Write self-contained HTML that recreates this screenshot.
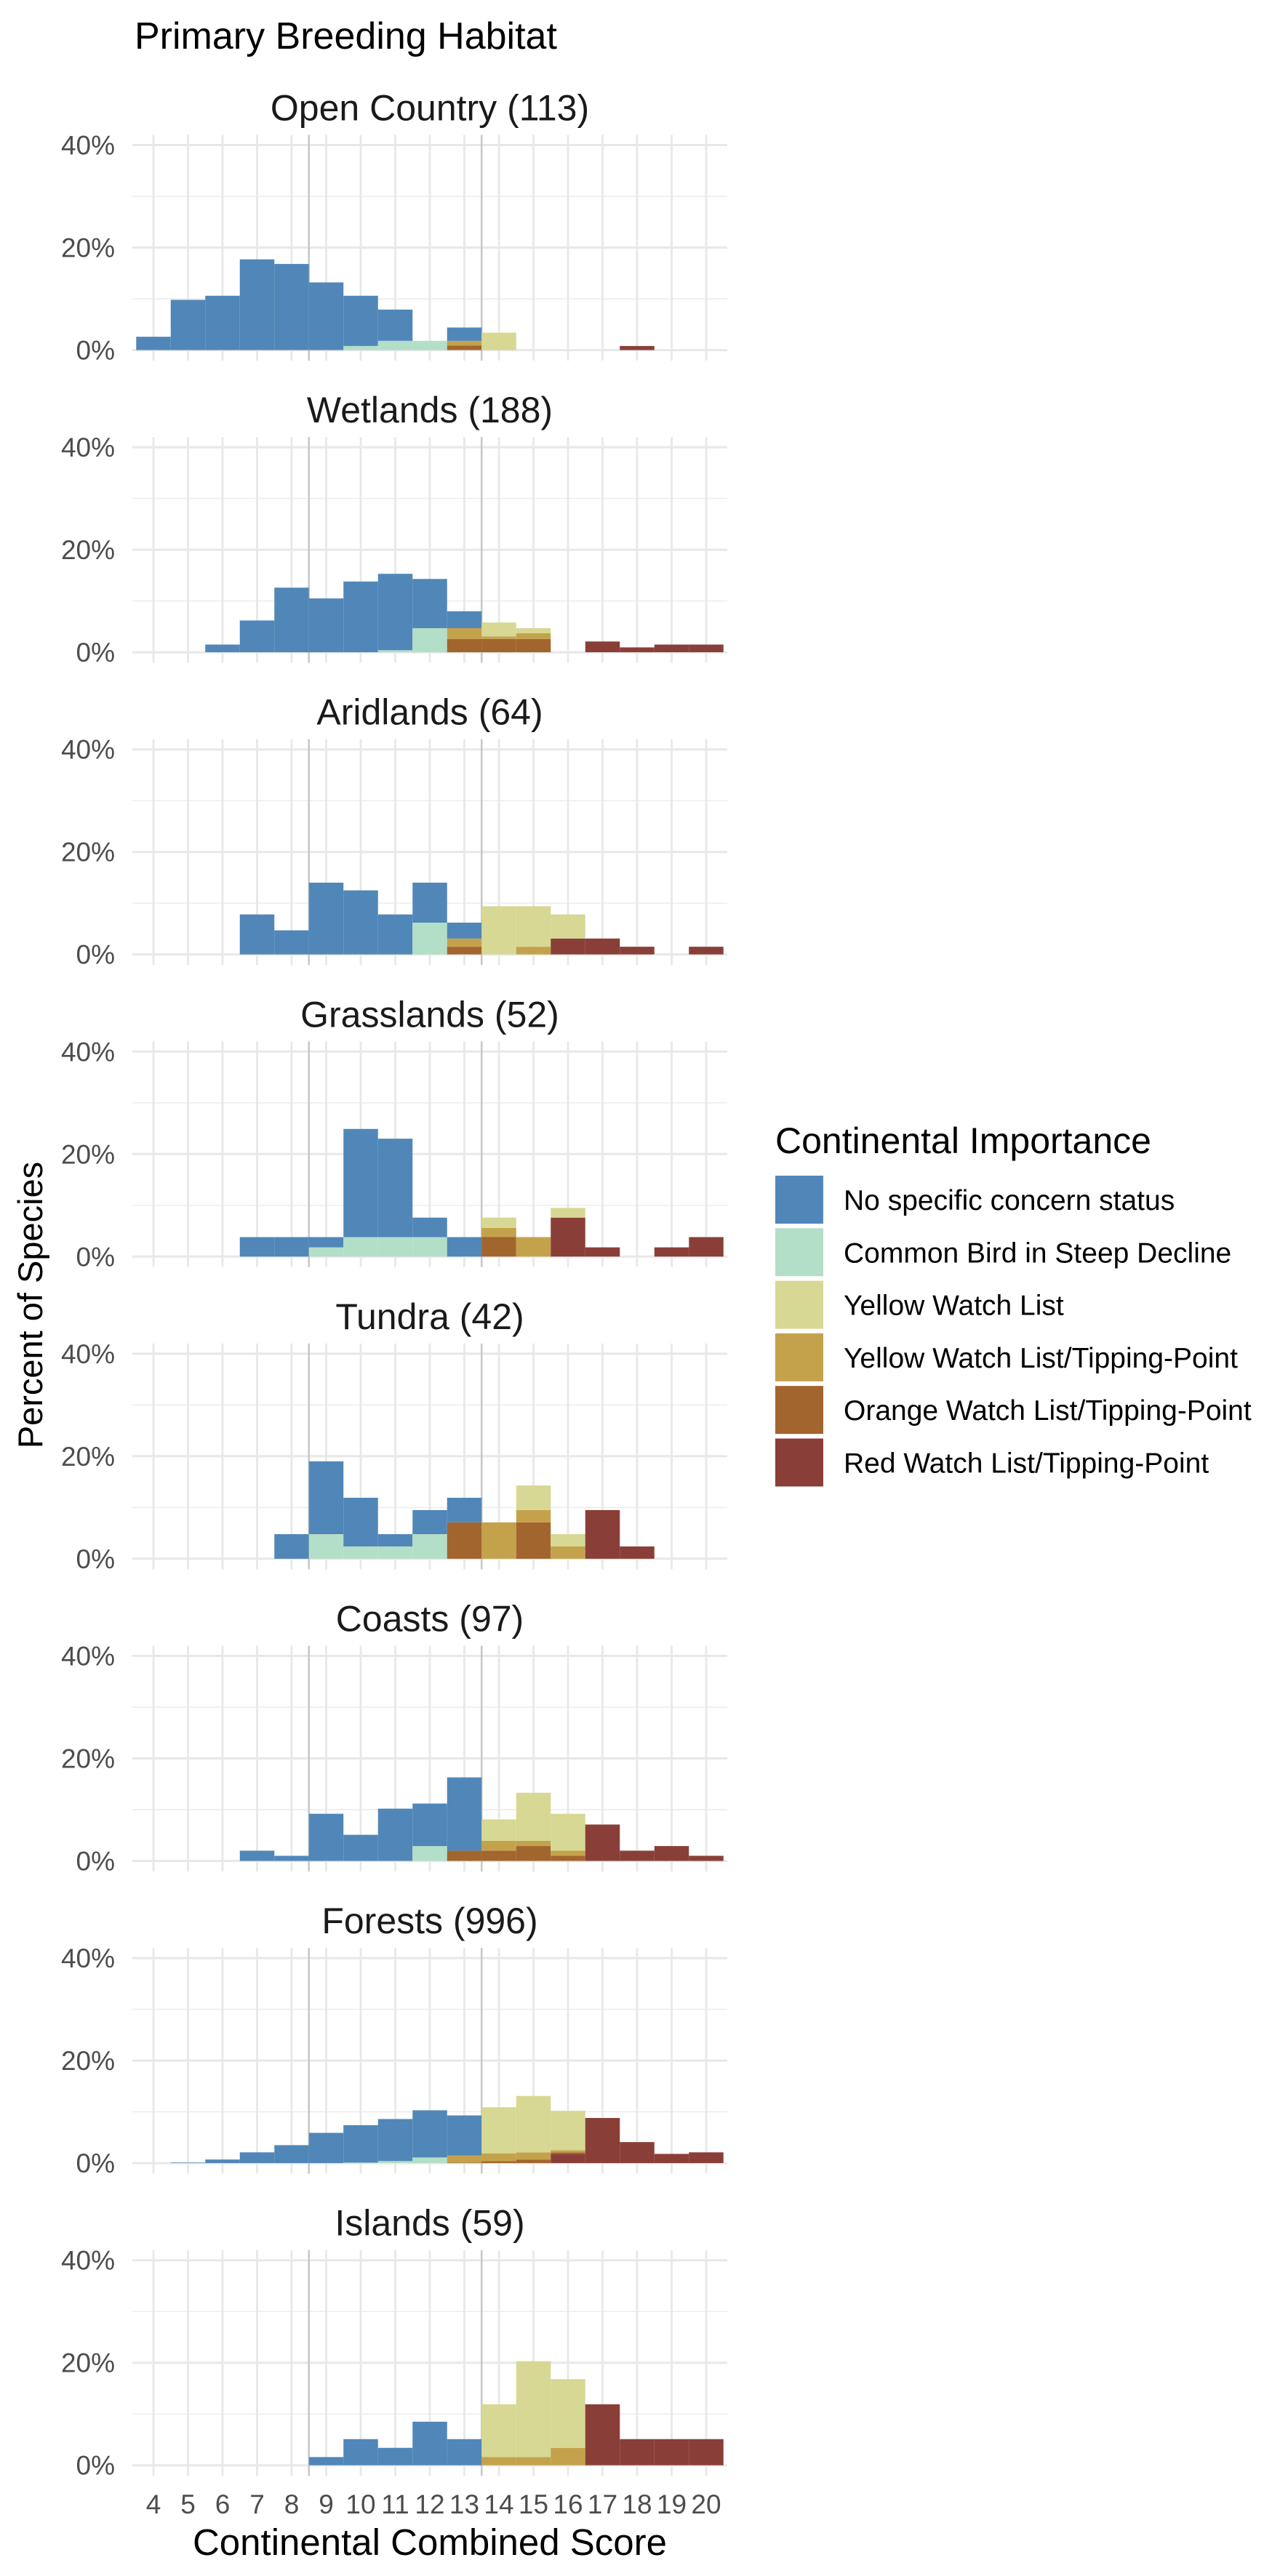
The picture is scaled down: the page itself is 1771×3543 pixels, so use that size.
<!DOCTYPE html>
<html><head><meta charset="utf-8">
<style>
html,body{margin:0;padding:0;background:#fff;}
svg{display:block;font-family:"Liberation Sans",Arial,sans-serif;}
</style></head>
<body>
<svg id="chart" width="1771" height="3543" viewBox="0 0 1771 3543" xmlns="http://www.w3.org/2000/svg">
<rect x="0" y="0" width="1771" height="3543" fill="#ffffff"/>
<text x="185" y="67" font-size="52" fill="#000">Primary Breeding Habitat</text>
<text transform="translate(58,1795) rotate(-90)" text-anchor="middle" font-size="47" fill="#000">Percent of Species</text>
<text x="591" y="3514" text-anchor="middle" font-size="51" fill="#000">Continental Combined Score</text>
<g id="panels"></g>
<g id="legend"></g>
</svg>
<script>
// Data: scores 4..20; each array row = one panel, values = % of species in that segment
const scores = [4,5,6,7,8,9,10,11,12,13,14,15,16,17,18,19,20];
const panelTitles = ["Open Country (113)","Wetlands (188)","Aridlands (64)","Grasslands (52)","Tundra (42)","Coasts (97)","Forests (996)","Islands (59)"];
const yTicks = [0,20,40];
const yTickLabels = ["0%","20%","40%"];
const yMinor = [10,30];
const thresholds = [8.5,13.5];
const categories = ["No specific concern status","Common Bird in Steep Decline","Yellow Watch List","Yellow Watch List/Tipping-Point","Orange Watch List/Tipping-Point","Red Watch List/Tipping-Point"];
const catColors = ["#5087b8","#b3dec8","#d6d893","#c4a24c","#a2652d","#893f37"];
// stacking order bottom -> top: red, orange, gold, yellow, green, blue
const red = [
 [0,0,0,0,0,0,0,0,0,0,0,0,0,0,0.8,0,0],
 [0,0,0,0,0,0,0,0,0,0,0,0,0,2.1,0.95,1.5,1.5],
 [0,0,0,0,0,0,0,0,0,0,0,0,3.1,3.1,1.5,0,1.5],
 [0,0,0,0,0,0,0,0,0,0,0,0,7.6,1.8,0,1.8,3.8],
 [0,0,0,0,0,0,0,0,0,0,0,0,0,9.5,2.4,0,0],
 [0,0,0,0,0,0,0,0,0,0,0,0,0,7.1,2.0,2.9,1.0],
 [0,0,0,0,0,0,0,0,0,0,0,0,1.8,8.8,4.1,1.8,2.1],
 [0,0,0,0,0,0,0,0,0,0,0,0,0,11.9,5.1,5.1,5.1]
];
const orange = [
 [0,0,0,0,0,0,0,0,0,0.9,0,0,0,0,0,0,0],
 [0,0,0,0,0,0,0,0,0,2.6,2.6,2.6,0,0,0,0,0],
 [0,0,0,0,0,0,0,0,0,1.5,0,0,0,0,0,0,0],
 [0,0,0,0,0,0,0,0,0,0,3.8,0,0,0,0,0,0],
 [0,0,0,0,0,0,0,0,0,7.1,0,7.1,0,0,0,0,0],
 [0,0,0,0,0,0,0,0,0,2.0,2.0,2.9,1.0,0,0,0,0],
 [0,0,0,0,0,0,0,0,0,0.1,0.4,0.7,0.3,0,0,0,0],
 [0,0,0,0,0,0,0,0,0,0,0,0,0,0,0,0,0]
];
const gold = [
 [0,0,0,0,0,0,0,0,0,0.9,0,0,0,0,0,0,0],
 [0,0,0,0,0,0,0,0,0,2.1,0.5,1.1,0,0,0,0,0],
 [0,0,0,0,0,0,0,0,0,1.6,0,1.5,0,0,0,0,0],
 [0,0,0,0,0,0,0,0,0,0,1.8,3.8,0,0,0,0,0],
 [0,0,0,0,0,0,0,0,0,0,7.1,2.4,2.4,0,0,0,0],
 [0,0,0,0,0,0,0,0,0,0,1.9,1.0,1.0,0,0,0,0],
 [0,0,0,0,0,0,0,0,0,1.4,1.5,1.4,0.4,0,0,0,0],
 [0,0,0,0,0,0,0,0,0,0,1.6,1.6,3.4,0,0,0,0]
];
const yellow = [
 [0,0,0,0,0,0,0,0,0,0,3.4,0,0,0,0,0,0],
 [0,0,0,0,0,0,0,0,0,0,2.7,1.0,0,0,0,0,0],
 [0,0,0,0,0,0,0,0,0,0,9.4,7.9,4.7,0,0,0,0],
 [0,0,0,0,0,0,0,0,0,0,2.0,0,1.9,0,0,0,0],
 [0,0,0,0,0,0,0,0,0,0,0,4.8,2.4,0,0,0,0],
 [0,0,0,0,0,0,0,0,0,0,4.2,9.4,7.2,0,0,0,0],
 [0,0,0,0,0,0,0,0,0,0,9.0,11.0,7.7,0,0,0,0],
 [0,0,0,0,0,0,0,0,0,0,10.3,18.7,13.4,0,0,0,0]
];
const green = [
 [0,0,0,0,0,0,0.8,1.8,1.8,0,0,0,0,0,0,0,0],
 [0,0,0,0,0,0,0,0.4,4.7,0,0,0,0,0,0,0,0],
 [0,0,0,0,0,0,0,0,6.2,0,0,0,0,0,0,0,0],
 [0,0,0,0,0,1.8,3.8,3.8,3.8,0,0,0,0,0,0,0,0],
 [0,0,0,0,0,4.8,2.4,2.4,4.8,0,0,0,0,0,0,0,0],
 [0,0,0,0,0,0,0,0,2.9,0,0,0,0,0,0,0,0],
 [0,0,0,0,0,0,0.1,0.4,1.1,0,0,0,0,0,0,0,0],
 [0,0,0,0,0,0,0,0,0,0,0,0,0,0,0,0,0]
];
const blue = [
 [2.6,9.8,10.6,17.7,16.8,13.2,9.8,6.1,0,2.6,0,0,0,0,0,0,0],
 [0,0,1.5,6.2,12.6,10.5,13.8,14.9,9.6,3.3,0,0,0,0,0,0,0],
 [0,0,0,7.8,4.7,14.0,12.5,7.8,7.8,3.1,0,0,0,0,0,0,0],
 [0,0,0,3.8,3.8,2.0,21.1,19.2,3.8,3.8,0,0,0,0,0,0,0],
 [0,0,0,0,4.8,14.2,9.5,2.4,4.7,4.8,0,0,0,0,0,0,0],
 [0,0,0,2.0,1.0,9.2,5.1,10.2,8.3,14.3,0,0,0,0,0,0,0],
 [0,0.1,0.7,2.1,3.5,5.9,7.3,8.2,9.2,7.8,0,0,0,0,0,0,0],
 [0,0,0,0,0,1.6,5.1,3.4,8.5,5.1,0,0,0,0,0,0,0]
];

const NS = "http://www.w3.org/2000/svg";
const stackOrder = [red, orange, gold, yellow, green, blue];
const stackColor = [catColors[5],catColors[4],catColors[3],catColors[2],catColors[1],catColors[0]];
const stackNames = ["red-watch","orange-watch","yellow-tipping","yellow-watch","common-decline","no-concern"];
const X0 = 211, XU = 47.5, PX1 = 182, PX2 = 1000;
const Y0 = 481.5, PSTEP = 415.6, YU = 7.05;
function xs(s){ return X0 + (s-4)*XU; }
function zeroY(k){ return Y0 + k*PSTEP; }
function ys(k,p){ return zeroY(k) - p*YU; }
function mk(tag, attrs, parent){ const e=document.createElementNS(NS,tag); for(const a in attrs) e.setAttribute(a,attrs[a]); parent.appendChild(e); return e; }

const panels = document.getElementById("panels");
panelTitles.forEach((title,k)=>{
  const g = mk("g",{},panels);
  
  
  const top = ys(k,40)-14, bot = zeroY(k)+14.5;
  yMinor.forEach(v=>{ const l=mk("line",{x1:PX1,x2:PX2,y1:ys(k,v),y2:ys(k,v),stroke:"#ebebeb","stroke-width":1.4},g);
      });
  yTicks.forEach(v=>{ const l=mk("line",{x1:PX1,x2:PX2,y1:ys(k,v),y2:ys(k,v),stroke:"#e8e8e8","stroke-width":3},g);
      });
  scores.forEach(s=>{ const l=mk("line",{x1:xs(s),x2:xs(s),y1:top,y2:bot,stroke:"#e8e8e8","stroke-width":2.8},g);
      });
  thresholds.forEach(t=>{ const l=mk("line",{x1:xs(t),x2:xs(t),y1:top,y2:bot,stroke:"#c8c8c8","stroke-width":2.6},g);
      });
  scores.forEach((s,i)=>{
    let cum = 0;
    stackOrder.forEach((arr,c)=>{
      const v = arr[k][i];
      if(v>0){
        const r = mk("rect",{x:xs(s)-XU/2,width:XU,y:ys(k,cum+v),height:v*YU,fill:stackColor[c]},g);
        
        
      }
      cum += v;
    });
  });
  const t = mk("text",{x:591,y:zeroY(k)-316,"text-anchor":"middle","font-size":50,fill:"#1a1a1a"},g);
  t.textContent = title;
  
  
  yTicks.forEach((v,j)=>{
    const tl = mk("text",{x:158,y:ys(k,v)+13,"text-anchor":"end","font-size":37,fill:"#4d4d4d"},g);
    tl.textContent = yTickLabels[j];
    
    
  });
  if(k===panelTitles.length-1){
    scores.forEach(s=>{
      const xl = mk("text",{x:xs(s),y:3457,"text-anchor":"middle","font-size":37,fill:"#4d4d4d"},g);
      xl.textContent = String(s);
      
      
    });
  }
});

const lg = document.getElementById("legend");
const lt = mk("text",{x:1066,y:1586,"font-size":50,fill:"#000"},lg);
lt.textContent = "Continental Importance";


categories.forEach((c,i)=>{
  const y = 1617 + i*72.3;
  const r = mk("rect",{x:1066,y:y,width:66,height:66,fill:catColors[i]},lg);
  
  
  const t = mk("text",{x:1160,y:y+47,"font-size":39,fill:"#000"},lg);
  t.textContent = c;
  
  
});
</script>
</body></html>
